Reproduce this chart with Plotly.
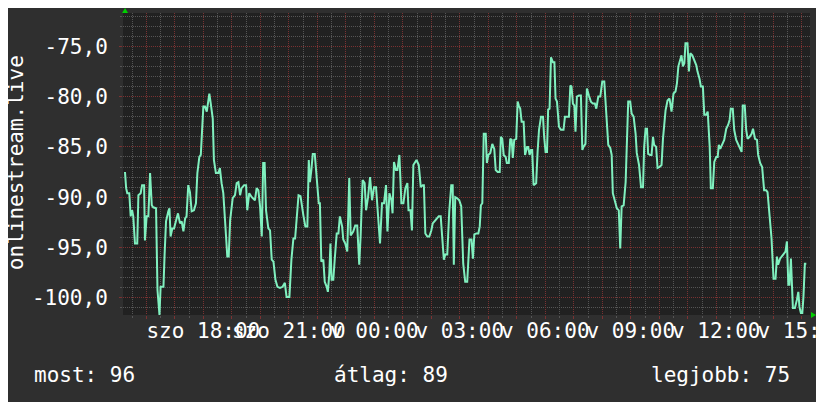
import plotly.graph_objects as go

# hours since Saturday 00:00, and the signal value at that moment
hours = [
    15.25, 15.29, 15.33, 15.40, 15.45, 15.50, 15.54, 15.60, 15.68, 15.72,
    15.80, 15.85, 15.92, 15.95, 16.01, 16.07, 16.13, 16.19, 16.24, 16.34,
    16.39, 16.46, 16.50, 16.60, 16.64, 16.69, 16.77, 16.81, 16.85, 16.91,
    16.97, 17.04, 17.11, 17.18, 17.24, 17.30, 17.36, 17.41, 17.47, 17.53,
    17.59, 17.67, 17.74, 17.79, 17.86, 17.91, 17.95, 18.00, 18.06, 18.12,
    18.16, 18.21, 18.26, 18.33, 18.37, 18.44, 18.53, 18.58, 18.64, 18.70,
    18.79, 18.84, 18.89, 18.94, 19.03, 19.11, 19.17, 19.23, 19.29, 19.34,
    19.43, 19.50, 19.54, 19.61, 19.70, 19.75, 19.81, 19.87, 19.93, 19.99,
    20.05, 20.10, 20.15, 20.20, 20.28, 20.34, 20.40, 20.46, 20.53, 20.60,
    20.69, 20.78, 20.86, 20.92, 21.02, 21.09, 21.16, 21.22, 21.27, 21.34,
    21.41, 21.46, 21.51, 21.58, 21.65, 21.70, 21.74, 21.79, 21.84, 21.91,
    21.95, 22.00, 22.05, 22.09, 22.14, 22.21, 22.26, 22.33, 22.37, 22.42,
    22.46, 22.50, 22.56, 22.61, 22.68, 22.74, 22.79, 22.87, 22.91, 22.98,
    23.05, 23.12, 23.17, 23.26, 23.33, 23.40, 23.47, 23.52, 23.59, 23.66,
    23.71, 23.78, 23.85, 23.92, 23.99, 24.06, 24.13, 24.20, 24.27, 24.34,
    24.41, 24.46, 24.53, 24.60, 24.64, 24.69, 24.76, 24.81, 24.88, 24.95,
    25.02, 25.09, 25.16, 25.20, 25.27, 25.32, 25.37, 25.44, 25.48, 25.56,
    25.63, 25.70, 25.74, 25.79, 25.86, 25.93, 26.00, 26.05, 26.12, 26.19,
    26.26, 26.33, 26.37, 26.44, 26.49, 26.56, 26.63, 26.70, 26.75, 26.79,
    26.84, 26.91, 26.98, 27.05, 27.12, 27.19, 27.26, 27.31, 27.34, 27.41,
    27.46, 27.51, 27.58, 27.65, 27.70, 27.74, 27.79, 27.84, 27.91, 27.95,
    28.00, 28.07, 28.14, 28.21, 28.26, 28.33, 28.40, 28.44, 28.49, 28.54,
    28.61, 28.65, 28.72, 28.77, 28.82, 28.86, 28.91, 28.98, 29.03, 29.07,
    29.12, 29.17, 29.24, 29.29, 29.36, 29.40, 29.45, 29.50, 29.54, 29.59,
    29.68, 29.73, 29.78, 29.85, 29.92, 29.96, 30.01, 30.06, 30.10, 30.15,
    30.20, 30.27, 30.32, 30.36, 30.41, 30.48, 30.55, 30.64, 30.69, 30.76,
    30.83, 30.88, 30.92, 30.97, 31.02, 31.06, 31.11, 31.18, 31.25, 31.30,
    31.34, 31.41, 31.46, 31.53, 31.60, 31.67, 31.74, 31.79, 31.86, 31.93,
    32.00, 32.07, 32.14, 32.21, 32.28, 32.33, 32.37, 32.44, 32.51, 32.58,
    32.63, 32.68, 32.75, 32.82, 32.86, 32.91, 32.98, 33.03, 33.10, 33.17,
    33.21, 33.29, 33.36, 33.43, 33.47, 33.52, 33.57, 33.61, 33.68, 33.73,
    33.78, 33.82, 33.89, 33.94, 34.01, 34.08, 34.13, 34.17, 34.22, 34.29,
    34.36, 34.43, 34.50, 34.57, 34.62, 34.67, 34.74, 34.78, 34.83, 34.88,
    34.92, 34.99, 35.04, 35.09, 35.16, 35.20, 35.25, 35.30, 35.34, 35.41,
    35.46, 35.53, 35.58, 35.65, 35.70, 35.77, 35.81, 35.88, 35.93, 36.00,
    36.05, 36.09, 36.14, 36.21, 36.28, 36.35, 36.42, 36.47, 36.51, 36.58,
    36.63, 36.70, 36.77, 36.84, 36.89, 36.93, 37.00, 37.05, 37.10, 37.17,
    37.24, 37.29, 37.36, 37.43, 37.47, 37.54, 37.61, 37.68, 37.75, 37.80,
    37.87, 37.94, 38.01, 38.08, 38.13, 38.17, 38.24, 38.29, 38.36, 38.43,
    38.48, 38.53, 38.57, 38.62, 38.69, 38.76, 38.83, 38.88, 38.92, 38.97,
    39.02, 39.06, 39.11, 39.16,
]
signal = [
    -87.5, -89.1, -89.6, -89.6, -91.9, -91.3, -91.9, -94.6, -94.6, -89.8,
    -89.6, -88.8, -88.8, -94.3, -91.9, -91.9, -87.6, -90.8, -91.0, -91.1,
    -99.2, -101.7, -98.9, -98.9, -95.7, -92.4, -91.4, -91.1, -93.9, -93.1,
    -93.1, -92.4, -91.6, -92.6, -92.4, -93.4, -92.1, -91.9, -88.8, -89.5,
    -91.4, -91.3, -90.6, -87.6, -86.0, -85.8, -83.2, -81.0, -81.0, -81.5,
    -80.7, -79.7, -80.7, -82.2, -86.3, -87.6, -87.6, -87.1, -88.6, -89.6,
    -93.6, -95.9, -95.9, -92.3, -90.1, -89.8, -88.6, -88.5, -89.8, -89.1,
    -88.8, -88.8, -91.3, -89.6, -90.0, -90.1, -90.3, -89.1, -89.3, -90.9,
    -93.9, -86.6, -86.6, -91.3, -93.1, -93.3, -96.2, -96.4, -98.2, -98.9,
    -99.0, -98.9, -98.5, -99.9, -99.9, -96.2, -94.1, -94.1, -92.3, -89.8,
    -89.9, -91.1, -91.8, -92.9, -92.9, -86.3, -88.5, -87.3, -85.7, -85.7,
    -87.1, -88.3, -90.6, -90.6, -96.4, -96.2, -98.4, -98.9, -99.4, -97.6,
    -94.6, -98.2, -98.2, -96.2, -93.6, -93.6, -91.9, -92.9, -94.2, -94.6,
    -95.4, -88.1, -93.8, -93.4, -92.8, -92.8, -96.7, -93.8, -88.3, -88.6,
    -91.3, -90.0, -88.0, -90.3, -89.0, -89.0, -92.1, -94.6, -90.6, -90.6,
    -88.8, -93.4, -89.6, -90.3, -91.6, -86.5, -87.3, -87.3, -85.8, -90.6,
    -90.6, -89.1, -88.6, -91.3, -91.3, -93.3, -86.8, -86.5, -86.3, -86.8,
    -89.0, -88.8, -88.8, -93.6, -93.9, -93.9, -93.3, -92.6, -92.4, -92.1,
    -91.9, -91.9, -93.4, -96.2, -95.7, -95.7, -91.4, -88.8, -88.8, -96.7,
    -90.0, -90.1, -90.3, -90.9, -96.6, -98.4, -98.4, -94.6, -94.2, -94.2,
    -96.1, -93.7, -93.6, -93.6, -92.9, -90.8, -90.6, -83.7, -83.7, -86.6,
    -85.8, -85.6, -84.7, -85.2, -87.3, -87.5, -87.5, -84.0, -84.2, -85.8,
    -86.0, -86.6, -86.6, -84.2, -84.3, -86.1, -84.3, -84.2, -80.5, -80.9,
    -81.2, -82.5, -82.5, -85.8, -85.0, -85.0, -85.8, -85.3, -85.3, -88.8,
    -88.6, -85.5, -83.3, -82.0, -82.0, -84.0, -85.5, -85.5, -81.3, -81.2,
    -76.1, -76.6, -76.6, -80.2, -80.5, -83.0, -83.3, -83.3, -82.0, -82.0,
    -82.0, -78.9, -79.0, -80.7, -80.9, -83.5, -80.0, -79.9, -79.9, -85.3,
    -85.0, -84.7, -79.2, -79.9, -80.5, -80.7, -80.7, -81.2, -80.0, -80.0,
    -78.5, -78.5, -82.2, -84.8, -85.1, -85.8, -89.6, -90.3, -91.1, -91.3,
    -95.1, -90.9, -90.8, -88.5, -84.0, -80.5, -80.5, -81.7, -82.0, -83.7,
    -85.6, -86.8, -89.0, -89.0, -85.0, -83.2, -83.2, -85.7, -85.8, -85.8,
    -84.0, -84.8, -85.0, -87.1, -87.0, -86.8, -84.2, -82.8, -81.4, -80.4,
    -80.2, -81.5, -79.7, -79.5, -78.7, -77.0, -76.1, -75.9, -77.0, -76.7,
    -74.7, -74.7, -77.5, -75.7, -75.9, -76.2, -76.6, -76.9, -77.5, -78.2,
    -79.0, -79.0, -81.8, -81.8, -81.5, -85.0, -89.1, -89.1, -86.5, -86.0,
    -86.0, -84.8, -85.2, -84.8, -84.3, -83.2, -82.8, -82.3, -81.2, -81.2,
    -83.3, -84.3, -84.8, -85.3, -85.5, -80.9, -80.9, -83.3, -84.2, -84.0,
    -83.7, -83.2, -84.2, -84.3, -85.8, -86.6, -87.0, -89.3, -89.3, -89.5,
    -92.1, -94.1, -98.1, -98.1, -95.9, -96.7, -96.1, -95.9, -95.7, -95.4,
    -94.4, -98.7, -98.7, -96.1, -101.0, -101.0, -100.2, -99.4, -100.9, -101.5,
    -101.5, -99.9, -96.6, -96.6,
]

label_hours = [18, 21, 24, 27, 30, 33, 36, 39]
label_texts = ["szo 18:00", "szo 21:00", "v 00:00", "v 03:00",
               "v 06:00", "v 09:00", "v 12:00", "v 15:00"]
grid_hours = list(range(16, 40))

y_ticks = [-100, -95, -90, -85, -80, -75]
y_tick_labels = ["-100,0", "-95,0", "-90,0", "-85,0", "-80,0", "-75,0"]

summary_names = ["most", "átlag", "legjobb"]
summary_values = [96, 89, 75]

FONT = "DejaVu Sans Mono"
FS = 21
BG = "#2f2f2f"
PLOT_BG = "#212121"
MAJOR = "#7a3232"
MINOR = "#555555"
ARROW = "#00d000"

tick_text = [label_texts[label_hours.index(h)] if h in label_hours else "" for h in grid_hours]

fig = go.Figure()
fig.add_trace(go.Scatter(
    x=hours, y=signal, mode="lines",
    line=dict(color="#80f0bf", width=2),
    hoverinfo="skip",
))

# the page body adds an 8px offset, so margins are shifted to compensate
fig.update_layout(
    width=824, height=402,
    margin=dict(l=115, r=22, t=5, b=95),
    paper_bgcolor=BG, plot_bgcolor=PLOT_BG,
    font=dict(family=FONT, size=FS, color="#ffffff"),
    showlegend=False,
)
fig.update_xaxes(
    range=[15.18, 39.29], automargin=False,
    tickmode="array", tickvals=grid_hours, ticktext=tick_text, tickangle=0,
    ticklabeloverflow="allow", ticklabelstandoff=-6,
    showgrid=True, gridcolor=MAJOR, griddash="1px,1px", gridwidth=1,
    ticks="outside", ticklen=3, tickcolor=MAJOR,
    minor=dict(dtick=0.5, tick0=0, showgrid=True, gridcolor=MINOR, griddash="1px,1px",
               ticks="outside", ticklen=2, tickcolor=MINOR),
    zeroline=False, showline=False,
    tickfont=dict(family=FONT, size=FS, color="#ffffff"),
)
fig.update_yaxes(
    range=[-101.7, -71.7], automargin=False,
    tickmode="array", tickvals=y_ticks, ticktext=y_tick_labels,
    showgrid=True, gridcolor=MAJOR, griddash="1px,1px", gridwidth=1,
    ticks="outside", ticklen=3, tickcolor=MAJOR,
    minor=dict(dtick=1, tick0=0, showgrid=True, gridcolor=MINOR, griddash="1px,1px",
               ticks="outside", ticklen=2, tickcolor=MINOR),
    zeroline=False, showline=False,
    ticklabelstandoff=7,
    tickfont=dict(family=FONT, size=FS, color="#ffffff"),
)

# rotated axis title at the far left
fig.add_annotation(
    text="onlinestream.live", textangle=-90,
    xref="paper", yref="paper", x=-0.1557, y=0.503,
    xanchor="center", yanchor="middle", showarrow=False,
    font=dict(family=FONT, size=FS, color="#ffffff"),
)

# summary line under the chart
summary_x = [-0.133, 0.304, 0.765]
for name, val, sx in zip(summary_names, summary_values, summary_x):
    fig.add_annotation(
        text=f"{name}: {val}", xref="paper", yref="paper", x=sx, y=-0.199,
        xanchor="left", yanchor="middle", showarrow=False,
        font=dict(family=FONT, size=FS, color="#ffffff"),
    )

# small green arrow heads at the axis ends
fig.add_shape(type="path", xref="paper", yref="paper",
              xsizemode="pixel", ysizemode="pixel", xanchor=0.003, yanchor=1.0,
              path="M -3,0 L 3,0 L 0,5 Z", fillcolor=ARROW, line=dict(width=0))
fig.add_shape(type="path", xref="paper", yref="paper",
              xsizemode="pixel", ysizemode="pixel", xanchor=1.0, yanchor=0.0,
              path="M 1,-3 L 1,3 L 6,0 Z", fillcolor=ARROW, line=dict(width=0))

fig.write_html("out.html")
